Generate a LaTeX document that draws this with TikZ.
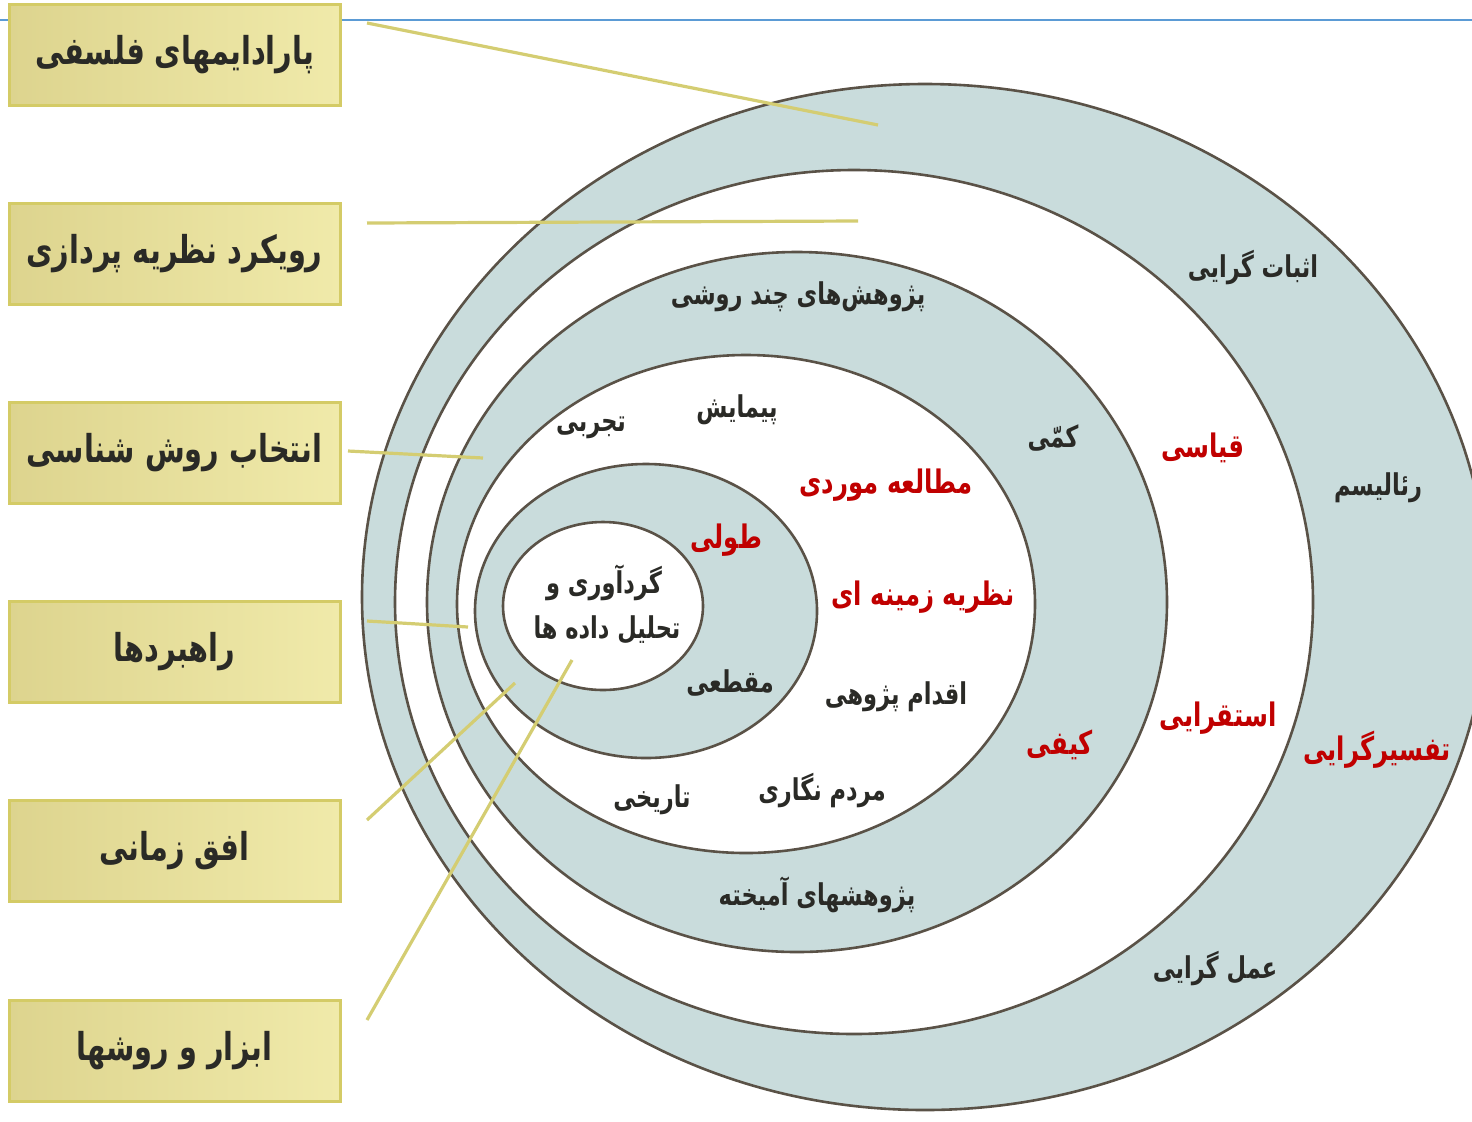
\documentclass[tikz,border=0pt]{standalone}
\usepackage{fontspec}
\newfontfamily\fa[Script=Arabic,FakeStretch=0.75]{DejaVu Sans}
\TeXXeTstate=1
\newcommand{\fatext}[1]{\fa\bfseries\beginR #1\endR}
\definecolor{ringblue}{HTML}{C9DCDC}
\definecolor{ringline}{HTML}{5A5247}
\definecolor{boxL}{HTML}{DDD48E}
\definecolor{boxR}{HTML}{F0EAAA}
\definecolor{boxline}{HTML}{D4CB66}
\definecolor{conn}{HTML}{D4CD72}
\definecolor{topblue}{HTML}{5B9BD5}
\definecolor{redtxt}{HTML}{C00000}
\definecolor{darktxt}{HTML}{2A2A26}
\tikzset{
  ring/.style={draw=ringline, line width=1.3pt},
  connector/.style={draw=conn, line width=1.6pt},
  layerbox/.style={draw=boxline, line width=1.5pt, left color=boxL, right color=boxR,
     minimum width=165.5pt, minimum height=50.5pt, inner sep=0pt, text=darktxt, font=\fontsize{19.2}{22}\selectfont},
  dlab/.style={text=darktxt, inner sep=1pt, font=\fontsize{15}{18}\selectfont},
  rlab/.style={text=redtxt, inner sep=1pt, font=\fontsize{16.2}{19}\selectfont},
}
\begin{document}
\begin{tikzpicture}[x=0.5pt,y=-0.5pt]
\useasboundingbox (0,0) rectangle (1472,1121);
\clip (0,0) rectangle (1472,1121);
% top rule
\draw[topblue, line width=1.2pt] (0,20) -- (1472,20);
% onion layers
\filldraw[ring, fill=ringblue] (925,597) ellipse [x radius=563, y radius=513];
\filldraw[ring, fill=white] (854,602) ellipse [x radius=459, y radius=432];
\filldraw[ring, fill=ringblue] (797,602) ellipse [x radius=370, y radius=350];
\filldraw[ring, fill=white] (746,604) ellipse [x radius=289, y radius=249];
\filldraw[ring, fill=ringblue] (646,611) ellipse [x radius=171, y radius=147];
\filldraw[ring, fill=white] (603,606) ellipse [x radius=100, y radius=84];
% connector ends
\coordinate (e1) at (878,125);
\coordinate (e2) at (858,221);
\coordinate (e3) at (483,458);
\coordinate (e4) at (468,627);
\coordinate (e5) at (515,683);
\coordinate (e6) at (572,660);
\coordinate (s1) at (367,23);
\coordinate (s2) at (367,223);
\coordinate (s3) at (348,451);
\coordinate (s4) at (367,621);
\coordinate (s5) at (367,820);
\coordinate (s6) at (367,1020);
\draw[connector] (s1) -- (e1);
\draw[connector] (s2) -- (e2);
\draw[connector] (s3) -- (e3);
\draw[connector] (s4) -- (e4);
\draw[connector] (s5) -- (e5);
\draw[connector] (s6) -- (e6);
% ring labels
\node[dlab] (posit) at (1253,268) {\fatext{اثبات گرایی}};
\node[dlab] (real) at (1378,488) {\fatext{رئالیسم}};
\node[rlab] (interp) at (1377,750) {\fatext{تفسیرگرایی}};
\node[dlab] (prag) at (1215,968) {\fatext{عمل گرایی}};
\node[rlab] (deduct) at (1203,448) {\fatext{قیاسی}};
\node[rlab] (induct) at (1218,718) {\fatext{استقرایی}};
\node[dlab] (quant) at (1053,438) {\fatext{کمّی}};
\node[rlab] (qual) at (1060,745) {\fatext{کیفی}};
\node[dlab] (multi) at (798,297) {\fatext{پژوهش‌های چند روشی}};
\node[dlab] (mixed) at (817,895) {\fatext{پژوهشهای آمیخته}};
\node[dlab] (exper) at (591,428) {\fatext{تجربی}};
\node[dlab] (survey) at (737,410) {\fatext{پیمایش}};
\node[rlab] (case) at (886,485) {\fatext{مطالعه موردی}};
\node[rlab] (grounded) at (923,597) {\fatext{نظریه زمینه ای}};
\node[dlab] (action) at (896,697) {\fatext{اقدام پژوهی}};
\node[dlab] (ethno) at (822,790) {\fatext{مردم نگاری}};
\node[dlab] (hist) at (652,800) {\fatext{تاریخی}};
\node[rlab] (longi) at (726,540) {\fatext{طولی}};
\node[dlab] (cross) at (730,683) {\fatext{مقطعی}};
\node[dlab] (data1) at (604,583) {\fatext{گردآوری و}};
\node[dlab] (data2) at (607,630) {\fatext{تحلیل داده ها}};
% layer boxes
\node[layerbox] (b1) at (174.5,54.5) {\fatext{پارادایمهای فلسفی}};
\node[layerbox] (b2) at (174.5,254) {\fatext{رویکرد نظریه پردازی}};
\node[layerbox] (b3) at (174.5,453) {\fatext{انتخاب روش شناسی}};
\node[layerbox] (b4) at (174.5,652) {\fatext{راهبردها}};
\node[layerbox] (b5) at (174.5,851) {\fatext{افق زمانی}};
\node[layerbox] (b6) at (174.5,1050.5) {\fatext{ابزار و روشها}};
\end{tikzpicture}
\end{document}
